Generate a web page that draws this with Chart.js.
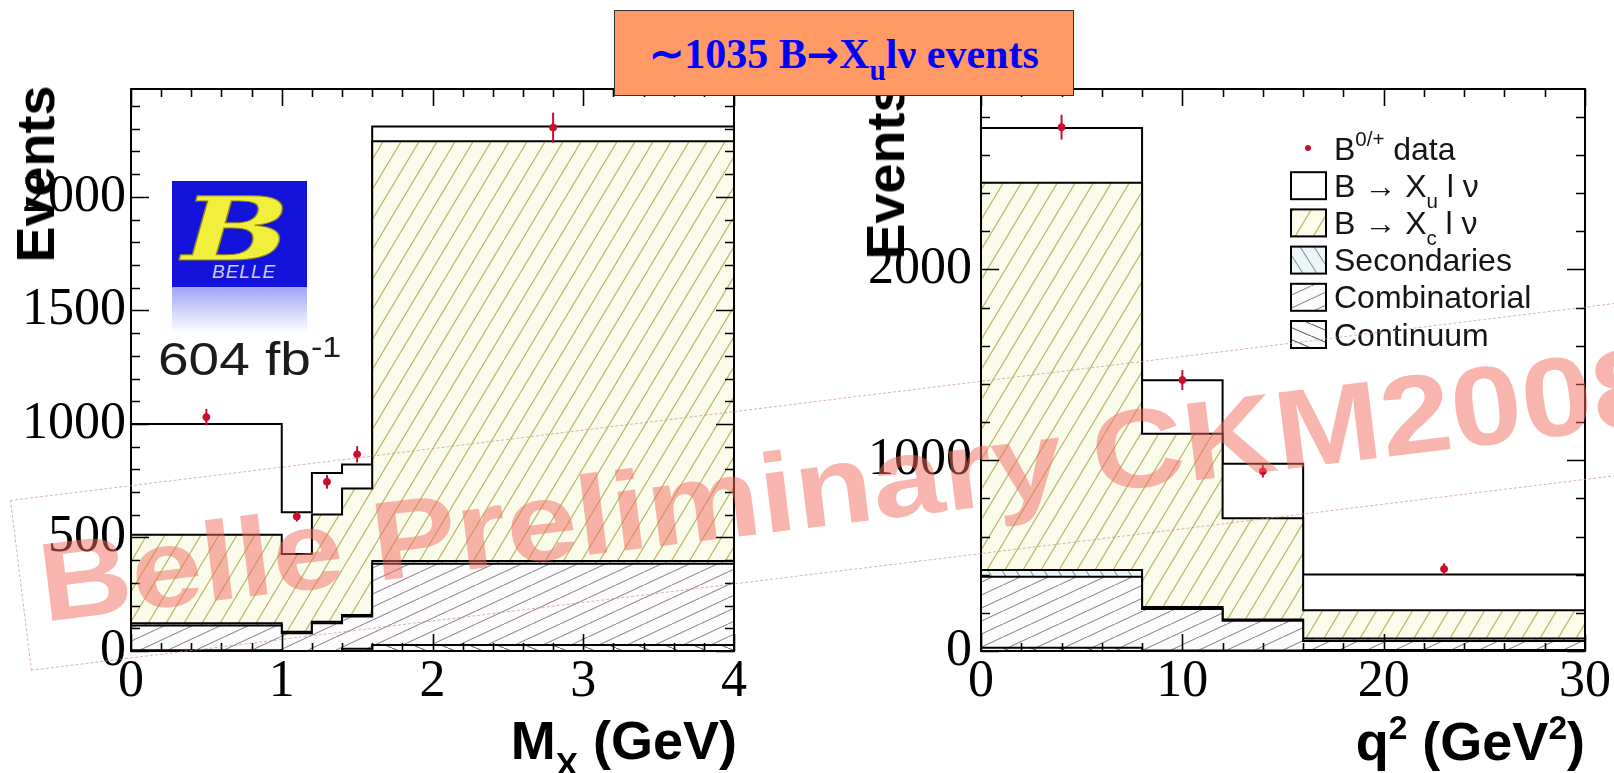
<!DOCTYPE html>
<html>
<head>
<meta charset="utf-8">
<script src="https://cdn.jsdelivr.net/npm/chart.js@4.4.1/dist/chart.umd.min.js"></script>
<style>
  body { margin: 0; width: 1614px; height: 773px; overflow: hidden; position: relative; background: #fff; font-family: 'Liberation Sans', Arial, sans-serif; }
  canvas { position: absolute; top: 0; }
  #cLeft { left: 0; }
  #cRight { left: 807px; }
  .ov { position: absolute; white-space: nowrap; line-height: 1; }
  sub, sup { font-size: 0.62em; line-height: 0; position: relative; vertical-align: baseline; }
  sub { top: 0.45em; }
  sup { top: -0.62em; }
  .ytitle { font: bold 54px 'Liberation Sans', Arial, sans-serif; transform: translate(-50%, -50%) rotate(-90deg); }
  .xtitle { font: bold 54px 'Liberation Sans', Arial, sans-serif; }
  #logo { left: 172px; top: 181px; width: 135px; height: 106px; background: #1313dc; overflow: hidden; }
  #logo .b { position: absolute; left: 10px; top: -4px; font: italic bold 88px 'DejaVu Serif', serif; color: #f2ee3c; -webkit-text-stroke: 1px #8a8420; transform: scaleX(1.45); transform-origin: 0 0; }
  #logo .belle { position: absolute; left: 40px; top: 80px; font: italic 19px 'Liberation Sans', sans-serif; color: #c9cff5; letter-spacing: 1px; }
  #refl { left: 172px; top: 287px; width: 135px; height: 46px; background: linear-gradient(rgba(80, 90, 235, 0.55), rgba(255, 255, 255, 0)); }
  #lumi { left: 158px; top: 331px; font: 47px 'Liberation Sans', sans-serif; color: #1c1c1c; transform: scaleX(1.17); transform-origin: 0 0; }
  #wm { left: 10px; top: 500px; width: 1750px; height: 170px; border: 1.5px dashed rgba(205, 150, 130, 0.7); transform-origin: 0 0; transform: rotate(-7deg); pointer-events: none; }
  #wm span { position: absolute; left: 18px; top: 30px; font: bold 112px 'Liberation Sans', Arial, sans-serif; color: rgba(242, 108, 94, 0.5); line-height: 1; white-space: nowrap; word-spacing: -5px; transform: scaleX(1.14); transform-origin: 0 0; }
  #box { left: 614px; top: 10px; width: 460px; height: 86px; background: #ff9966; border: 1px solid #333; box-sizing: border-box; text-align: center; font: bold 42px 'Liberation Serif', 'Times New Roman', serif; color: #0000ff; line-height: 86px; }
  #box sub { font-size: 0.7em; top: 0.42em; }
  #box .arr { font-family: 'DejaVu Sans', sans-serif; font-weight: bold; font-size: 0.92em; }
</style>
</head>
<body>
<canvas id="cLeft" width="807" height="773"></canvas>
<canvas id="cRight" width="807" height="773"></canvas>

<div class="ov" id="logo"><span class="b">B</span><span class="belle">BELLE</span></div>
<div class="ov" id="refl"></div>
<div class="ov" id="lumi">604 fb<sup>-1</sup></div>
<div class="ov ytitle" style="left:35px; top:174px;">Events</div>
<div class="ov ytitle" style="left:885px; top:171px;">Events</div>
<div class="ov xtitle" style="right:877px; top:709px;">M<sub style="top:0.5em">X</sub> (GeV)</div>
<div class="ov xtitle" style="right:29px; top:710px;">q<sup>2</sup> (GeV<sup>2</sup>)</div>
<div class="ov" id="wm"><span>Belle Preliminary CKM2008</span></div>
<div class="ov" id="box">∼1035 B<span class="arr">→</span>X<sub>u</sub>lν events</div>

<script>
// ---- M_X panel ----
const mxEdges = [0, 1, 1.2, 1.4, 1.6, 4];
const mxXu = [488, 184, 183, 105, 65];
const mxXc = [390, 342, 472, 558, 1849];
const mxSecondaries = [10, 7, 7, 6, 12];
const mxCombinatorial = [109, 78, 122, 142, 358];
const mxContinuum = [3, 0, 0, 10, 26];
const mxDataX = [0.5, 1.1, 1.3, 1.5, 2.8];
const mxData = [1030, 592, 745, 866, 2305];
const mxDataErr = [36, 22, 30, 36, 66];
const mxTicksX = [0, 1, 2, 3, 4];
const mxTicksY = [0, 500, 1000, 1500, 2000];

// ---- q^2 panel ----
const q2Edges = [0, 8, 12, 16, 30];
const q2Xu = [286, 281, 285, 188];
const q2Xc = [2030, 908, 531, 147];
const q2Secondaries = [35, 10, 7, 14];
const q2Combinatorial = [372, 217, 156, 47];
const q2Continuum = [17, 3, 2, 5];
const q2DataX = [4, 10, 14, 23];
const q2Data = [2745, 1420, 942, 430];
const q2DataErr = [65, 52, 33, 30];
const q2TicksX = [0, 10, 20, 30];
const q2TicksY = [0, 1000, 2000];

const legendLabels = ['B^{0/+} data', 'B \u2192 X_{u} l \u03bd', 'B \u2192 X_{c} l \u03bd', 'Secondaries', 'Combinatorial', 'Continuum'];

const DATA_RED = '#c8102e';

function hatch(bg, fg, w, h, dir, lw) {
    const c = document.createElement('canvas');
    c.width = w;
    c.height = h;
    const g = c.getContext('2d');
    g.fillStyle = bg;
    g.fillRect(0, 0, w, h);
    g.strokeStyle = fg;
    g.lineWidth = lw;
    g.beginPath();
    for (let k = -1; k <= 1; k++) {
        if (dir === '/') {
            g.moveTo(k * w, h);
            g.lineTo(k * w + w, 0);
        } else {
            g.moveTo(k * w, 0);
            g.lineTo(k * w + w, h);
        }
    }
    g.stroke();
    return g.createPattern(c, 'repeat');
}

// bottom of the stack first
const FILLS = {
    continuum: hatch('#fbfbfb', '#5a5a5a', 28, 12, '\\', 1.1),
    combinatorial: hatch('#fdfcfd', '#8c8494', 28, 13, '/', 1.1),
    secondaries: hatch('#eef5f6', '#7d9ca2', 14, 22, '\\', 1.1),
    xc: hatch('#fbfbec', '#b9b86a', 18, 30, '/', 1.2),
    xu: '#ffffff'
};

function stackUp(layers) {
    const out = [];
    let run = layers[0].map(() => 0);
    layers.forEach(l => {
        run = run.map((v, i) => v + l[i]);
        out.push(run);
    });
    return out;
}

function stepPoints(edges, vals) {
    const pts = vals.map((v, i) => ({x: edges[i], y: v}));
    pts.push({x: edges[edges.length - 1], y: vals[vals.length - 1]});
    return pts;
}

function buildDatasets(edges, layers, dataX, data, dataErr) {
    const fills = [FILLS.continuum, FILLS.combinatorial, FILLS.secondaries, FILLS.xc, FILLS.xu];
    const cum = stackUp(layers);
    const hist = cum.map((c, k) => ({
        data: stepPoints(edges, c),
        stepped: true,
        fill: 'origin',
        backgroundColor: fills[k],
        borderColor: '#000',
        borderWidth: 2,
        pointRadius: 0
    }));
    const points = {
        data: dataX.map((x, i) => ({x: x, y: data[i]})),
        yErr: dataErr,
        showLine: false,
        pointRadius: 3.5,
        pointBackgroundColor: DATA_RED,
        pointBorderColor: DATA_RED
    };
    // index 0 is drawn last, so data first, then the stack from bottom to top
    return [points].concat(hist);
}

const errorBars = {
    id: 'errorBars',
    afterDatasetsDraw(chart) {
        const ctx = chart.ctx;
        const y = chart.scales.y;
        chart.data.datasets.forEach((ds, i) => {
            if (!ds.yErr) return;
            const meta = chart.getDatasetMeta(i);
            ctx.save();
            ctx.strokeStyle = DATA_RED;
            ctx.lineWidth = 2;
            ds.data.forEach((pt, j) => {
                const px = meta.data[j].x;
                ctx.beginPath();
                ctx.moveTo(px, y.getPixelForValue(pt.y - ds.yErr[j]));
                ctx.lineTo(px, y.getPixelForValue(pt.y + ds.yErr[j]));
                ctx.stroke();
            });
            ctx.restore();
        });
    }
};

// ROOT style frame with ticks inside on all four sides
const rootFrame = {
    id: 'rootFrame',
    afterDraw(chart, args, opts) {
        const {ctx, chartArea: a, scales: {x, y}} = chart;
        const near = (v, list) => list.some(m => Math.abs(m - v) < 1e-6);
        ctx.save();
        ctx.strokeStyle = '#000';
        ctx.lineWidth = 1.6;
        ctx.beginPath();
        const nx = Math.floor((x.max - x.min) / opts.xMinor + 1e-6);
        for (let i = 0; i <= nx; i++) {
            const v = x.min + i * opts.xMinor;
            const px = Math.round(x.getPixelForValue(v)) + 0.5;
            const len = near(v, opts.xMajor) ? 17 : 8;
            ctx.moveTo(px, a.bottom);
            ctx.lineTo(px, a.bottom - len);
            ctx.moveTo(px, a.top);
            ctx.lineTo(px, a.top + len);
        }
        const ny = Math.floor((y.max - y.min) / opts.yMinor + 1e-6);
        for (let i = 0; i <= ny; i++) {
            const v = y.min + i * opts.yMinor;
            const py = Math.round(y.getPixelForValue(v)) + 0.5;
            const len = near(v, opts.yMajor) ? 18 : 9;
            ctx.moveTo(a.left, py);
            ctx.lineTo(a.left + len, py);
            ctx.moveTo(a.right, py);
            ctx.lineTo(a.right - len, py);
        }
        ctx.stroke();
        ctx.lineWidth = 2;
        ctx.strokeRect(a.left, a.top, a.right - a.left, a.bottom - a.top);
        ctx.restore();
    }
};

function drawRich(ctx, text, x, y, size) {
    const re = /([_^])\{([^}]*)\}|([^_^]+)/g;
    let m;
    let cx = x;
    while ((m = re.exec(text))) {
        if (m[3]) {
            ctx.font = size + "px 'Liberation Sans', Arial, sans-serif";
            ctx.fillText(m[3], cx, y);
            cx += ctx.measureText(m[3]).width;
        } else {
            const s = size * 0.64;
            ctx.font = s + "px 'Liberation Sans', Arial, sans-serif";
            const dy = m[1] === '_' ? size * 0.36 : -size * 0.42;
            ctx.fillText(m[2], cx, y + dy);
            cx += ctx.measureText(m[2]).width;
        }
    }
}

const hatchLegend = {
    id: 'hatchLegend',
    afterDraw(chart, args, opts) {
        if (!opts.labels) return;
        const {ctx, chartArea: a} = chart;
        const boxFills = [null, FILLS.xu, FILLS.xc, FILLS.secondaries, FILLS.combinatorial, FILLS.continuum];
        const bx = a.left + opts.x;
        ctx.save();
        opts.labels.forEach((label, i) => {
            const cy = a.top + opts.y + i * opts.spacing;
            if (boxFills[i] === null) {
                ctx.fillStyle = DATA_RED;
                ctx.beginPath();
                ctx.arc(bx + 17, cy, 3, 0, Math.PI * 2);
                ctx.fill();
            } else {
                ctx.fillStyle = boxFills[i];
                ctx.fillRect(bx, cy - 13, 35, 27);
                ctx.strokeStyle = '#000';
                ctx.lineWidth = 2;
                ctx.strokeRect(bx, cy - 13, 35, 27);
            }
            ctx.fillStyle = '#151515';
            ctx.textBaseline = 'alphabetic';
            drawRich(ctx, label, bx + 43, cy + 11.5, opts.size);
        });
        ctx.restore();
    }
};

function makePanel(canvasId, cfg) {
    return new Chart(document.getElementById(canvasId), {
        type: 'line',
        data: {datasets: buildDatasets(cfg.edges, cfg.layers, cfg.dataX, cfg.data, cfg.dataErr)},
        options: {
            responsive: false,
            animation: false,
            layout: {padding: {top: 89, right: cfg.padRight, left: 0, bottom: 0}},
            elements: {line: {tension: 0}},
            plugins: {
                legend: {display: false},
                tooltip: {enabled: false},
                rootFrame: {xMajor: cfg.ticksX, xMinor: cfg.xMinor, yMajor: cfg.ticksY, yMinor: cfg.yMinor},
                hatchLegend: cfg.legend || {}
            },
            scales: {
                x: {
                    type: 'linear',
                    min: cfg.xMin,
                    max: cfg.xMax,
                    border: {display: false},
                    grid: {display: false, drawTicks: false},
                    ticks: {
                        font: {family: "'Liberation Serif', 'Times New Roman', serif", size: 52},
                        color: '#000',
                        padding: 0,
                        maxRotation: 0,
                        autoSkip: false,
                        callback: v => String(v)
                    },
                    afterBuildTicks: s => { s.ticks = cfg.ticksX.map(v => ({value: v})); },
                    afterFit: s => { s.height = 122; }
                },
                y: {
                    type: 'linear',
                    min: 0,
                    max: cfg.yMax,
                    border: {display: false},
                    grid: {display: false, drawTicks: false},
                    ticks: {
                        font: {family: "'Liberation Serif', 'Times New Roman', serif", size: 52},
                        color: '#000',
                        padding: cfg.yPad,
                        callback: v => String(v)
                    },
                    afterBuildTicks: s => { s.ticks = cfg.ticksY.map(v => ({value: v})); },
                    afterFit: s => { s.width = cfg.yWidth; }
                }
            }
        },
        plugins: [errorBars, rootFrame, hatchLegend]
    });
}

makePanel('cLeft', {
    edges: mxEdges,
    layers: [mxContinuum, mxCombinatorial, mxSecondaries, mxXc, mxXu],
    dataX: mxDataX, data: mxData, dataErr: mxDataErr,
    ticksX: mxTicksX, ticksY: mxTicksY,
    xMin: 0, xMax: 4, xMinor: 0.2,
    yMax: 2475, yMinor: 100,
    yWidth: 131, yPad: 5, padRight: 73
});

makePanel('cRight', {
    edges: q2Edges,
    layers: [q2Continuum, q2Combinatorial, q2Secondaries, q2Xc, q2Xu],
    dataX: q2DataX, data: q2Data, dataErr: q2DataErr,
    ticksX: q2TicksX, ticksY: q2TicksY,
    xMin: 0, xMax: 30, xMinor: 2,
    yMax: 2945, yMinor: 200,
    yWidth: 174, yPad: 9, padRight: 29,
    legend: {labels: legendLabels, x: 310, y: 59, spacing: 37.2, size: 32}
});
</script>
</body>
</html>
